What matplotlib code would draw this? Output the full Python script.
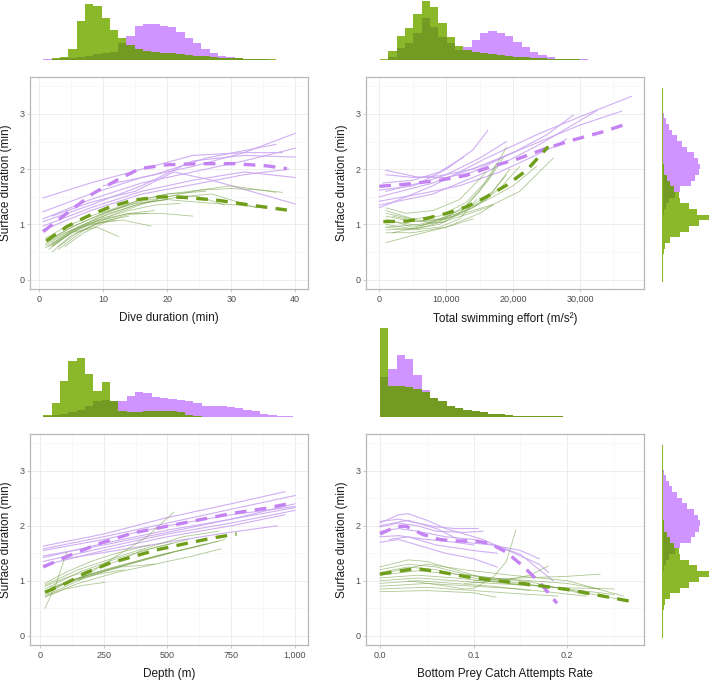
import numpy as np
import matplotlib.pyplot as plt
from matplotlib.ticker import FuncFormatter, MultipleLocator

plt.rcParams['font.family'] = ['Liberation Sans', 'DejaVu Sans']

# colours
PURPLE = '#CF94FF'
GREEN = '#8AB82A'
DARK = '#739A22'
P_LINE = '#CBA6F2'
G_LINE = '#6E9B3A'
P_MEAN = '#C482F2'
G_MEAN = '#6E9E1A'

# ---- marginal histograms (bar heights) ----
dive_bins = (0.63, 1.30)
dive_green = [1, 5, 10, 33, 117, 168, 162, 127, 90, 67, 45, 32, 27, 24, 22, 20, 17, 15, 13, 11,
              9, 7, 6, 5, 4, 3, 2.5, 2, 1.5, 1.5]
dive_purple = [2, 3, 5, 7, 10, 13, 18, 22, 25, 50, 72, 102, 107, 107, 102, 98, 83, 65, 50, 32,
               20, 12, 8, 5, 3, 2.5, 2, 1.5, 1.5, 1.5]

effort_bins = (100, 1245)
effort_green = [2, 27, 73, 97, 137, 177, 160, 110, 70, 43, 30, 25, 20, 17, 14, 12, 10, 8, 6, 5,
                4, 3, 2.5, 2, 1.5, 1.5, 1.5, 1.5, 1.5, 1.5]
effort_purple = [1, 10, 35, 50, 80, 125, 100, 70, 50, 30, 40, 60, 80, 87, 80, 72, 55, 40, 25, 15,
                 8, 4, 3, 2.5, 2, 1.5, 1.5, 1.5, 1.5, 1.5]

depth_bins = (13, 32.7)
depth_green = [7, 42, 107, 167, 177, 129, 77, 105, 47, 17, 16, 16, 17, 18, 19, 19, 16, 5, 2, 1.5,
               1.5, 1.5, 1.5, 1.5, 1.5, 1.5, 1.5, 1.5, 1.5, 1.5]
depth_purple = [2, 5, 8, 14, 22, 34, 47, 50, 47, 49, 62, 74, 72, 59, 57, 54, 50, 49, 42, 34,
                34, 32, 30, 27, 22, 17, 10, 7, 4, 2]

prey_bins = (0.0, 0.0089)
prey_green = [267, 92, 92, 90, 85, 75, 57, 47, 34, 27, 20, 17, 14, 10, 8, 6, 4.5, 3.5, 3, 2.5,
              2, 2, 1.5, 1.5, 1.5, 1.5, 1.5, 1.5, 1.5, 1.5]
prey_purple = [120, 145, 187, 175, 125, 80, 57, 47, 34, 27, 20, 17, 14, 10, 8, 6, 4.5, 3.5, 3, 2.5,
               2, 2, 1.5, 1.5, 1.5, 1.5, 1.5, 1.5, 1.5, 1.5]

surf_bins = (0.05, 0.1025)
surf_green = [1, 1, 1, 2, 5, 10, 25, 55, 80, 110, 140, 105, 80, 55, 50, 35, 25, 15, 7, 5,
              4, 3, 2, 1, 1, 1, 1, 1, 1, 1, 1, 1, 1, 1]
surf_purple = [0.5, 0.5, 0.5, 0.5, 0.5, 0.5, 0.5, 1, 2, 3, 4, 6, 12, 22, 40, 55, 88, 100, 110, 113,
               107, 95, 75, 60, 45, 30, 20, 12, 7, 4, 3, 2, 1, 1]

# ---- panel 1: dive duration ----
dive_purple_mean = [(0.6, 0.87), (4.3, 1.2), (8.4, 1.56), (12.1, 1.8), (15.7, 2.01), (19.9, 2.08),
                    (25.1, 2.1), (30.4, 2.1), (35.6, 2.06), (38.7, 2.01)]
dive_green_mean = [(1.1, 0.70), (4.3, 0.96), (7.4, 1.14), (11.1, 1.32), (14.7, 1.44), (18.9, 1.50),
                   (22.5, 1.49), (27.7, 1.44), (33.0, 1.35), (38.7, 1.26)]
dive_purple_lines = [
    [(0.6, 1.48), (8, 1.75), (16, 2.0), (24, 2.25), (32, 2.3), (38, 2.3)],
    [(0.6, 1.23), (8, 1.55), (16, 1.85), (24, 2.05), (32, 2.3), (40, 2.65)],
    [(0.6, 1.1), (8, 1.45), (16, 1.75), (24, 1.95), (32, 2.15), (40, 2.38)],
    [(0.6, 1.05), (8, 1.35), (16, 1.7), (24, 2.15), (32, 2.25), (40, 2.22)],
    [(0.6, 0.97), (8, 1.3), (16, 1.6), (24, 1.8), (32, 1.95), (40, 1.85)],
    [(0.6, 0.9), (8, 1.25), (16, 1.55), (24, 1.72), (32, 1.9), (39, 2.0)],
    [(2, 1.15), (8, 1.4), (15, 1.6), (21, 1.95), (27, 1.8), (40, 1.37)],
    [(10, 1.7), (18, 1.9), (26, 2.2), (37, 2.45)],
]
dive_green_lines = [
    [(1, 0.62), (5, 0.9), (10, 1.15), (15, 1.35), (20, 1.5), (25, 1.62), (30, 1.7), (37, 1.58)],
    [(1, 0.58), (5, 0.88), (10, 1.18), (15, 1.42), (20, 1.55), (26, 1.6)],
    [(1.5, 0.55), (5, 0.85), (10, 1.12), (14, 1.25), (18, 1.35), (22, 1.38)],
    [(2, 0.5), (5, 0.8), (9, 1.02), (13, 1.08), (17.5, 0.97)],
    [(1.5, 0.7), (5, 0.95), (10, 1.2), (15, 1.38), (20, 1.45), (25, 1.4), (31, 1.35), (35, 1.3)],
    [(1, 0.65), (4, 0.85), (8, 1.0), (12, 1.08)],
    [(2, 0.6), (5, 0.85), (9, 0.95), (12.4, 0.78)],
    [(3, 0.55), (7, 0.9), (12, 1.2), (17, 1.4), (22, 1.5), (27, 1.55), (34, 1.3)],
    [(1, 0.7), (6, 1.0), (11, 1.25), (16, 1.42), (21, 1.52), (25, 1.5), (29, 1.35)],
    [(1.5, 0.6), (5, 0.85), (9, 1.05), (14, 1.2), (19, 1.2), (24, 1.15)],
    [(2, 0.62), (6, 0.92), (11, 1.2), (16, 1.38), (20, 1.45)],
    [(3, 0.6), (6, 0.85), (10, 1.05), (14, 1.18), (17, 1.2)],
    [(1, 0.75), (4, 0.95), (8, 1.15), (12, 1.3), (16, 1.45), (20, 1.55), (25, 1.62), (30, 1.65),
     (35, 1.62), (38, 1.58)],
    [(2, 0.65), (6, 0.95), (10, 1.1), (14, 1.2), (18, 1.25)],
    [(4, 0.6), (7, 0.85), (11, 1.08), (14, 1.15)],
]

# ---- panel 2: total swimming effort ----
effort_purple_mean = [(0, 1.69), (4090, 1.73), (9070, 1.80), (13060, 1.89), (16540, 2.04),
                      (20530, 2.18), (25010, 2.38), (29000, 2.53), (33490, 2.68), (37220, 2.83)]
effort_green_mean = [(600, 1.05), (4090, 1.06), (7080, 1.11), (10070, 1.20), (13060, 1.32),
                     (16040, 1.50), (19030, 1.71), (22030, 1.98), (25260, 2.41)]
effort_purple_lines = [
    [(0, 1.3), (8000, 1.7), (16000, 2.2), (24000, 2.65), (30000, 2.95), (37700, 3.32)],
    [(0, 1.5), (8000, 1.75), (16000, 2.1), (24000, 2.5), (30000, 2.8), (36200, 3.05)],
    [(0, 1.35), (8000, 1.55), (16000, 1.95), (24000, 2.45), (32500, 3.06)],
    [(1000, 1.98), (6000, 1.85), (10000, 1.85), (14000, 1.95), (20000, 2.3), (25000, 2.62), (29000, 2.98)],
    [(1000, 1.6), (6000, 1.75), (10000, 2.0), (14000, 2.35), (16200, 2.7)],
    [(500, 1.75), (5000, 1.8), (9000, 1.95), (12600, 2.22)],
    [(0, 1.42), (6000, 1.55), (12000, 1.7), (18000, 1.95), (26000, 2.4), (28000, 2.55)],
    [(1000, 1.9), (5000, 1.85), (9000, 1.88), (14000, 2.0), (20000, 2.3)],
    [(0, 1.62), (5000, 1.7), (10000, 1.9), (15000, 2.2), (19000, 2.5)],
]
effort_green_lines = [
    [(1000, 0.67), (5000, 0.8), (10000, 0.95), (15000, 1.2), (17000, 1.35)],
    [(1000, 0.85), (5000, 0.85), (10000, 0.95), (14000, 1.1)],
    [(1000, 1.3), (4000, 1.2), (8000, 1.25), (12000, 1.45), (16000, 1.95)],
    [(1000, 1.2), (5000, 1.1), (9000, 1.15), (13000, 1.4), (16500, 1.85), (19000, 2.4)],
    [(1000, 1.1), (5000, 0.95), (9000, 1.05), (13000, 1.35), (16000, 1.75), (18500, 2.2)],
    [(1000, 1.0), (5000, 0.92), (9000, 1.0), (12000, 1.2), (15000, 1.6), (17500, 2.1)],
    [(1000, 0.95), (5000, 0.9), (9000, 0.95), (12000, 1.1), (14500, 1.45)],
    [(2000, 1.05), (6000, 0.98), (10000, 1.1), (14000, 1.3), (18000, 1.65), (21000, 2.05)],
    [(1000, 1.15), (5000, 1.05), (9000, 1.1), (13000, 1.25), (17000, 1.5), (20000, 1.7), (23500, 2.05)],
    [(1000, 0.9), (6000, 0.93), (11000, 1.1), (16000, 1.3), (21000, 1.6), (26000, 2.2)],
    [(1000, 1.25), (5000, 1.1), (8000, 1.02), (10000, 1.05)],
    [(2000, 0.85), (6000, 0.95), (10000, 1.15), (14000, 1.35), (17000, 1.6), (19500, 2.0)],
    [(2000, 1.15), (6000, 1.05), (10000, 1.1), (14000, 1.25), (17000, 1.36)],
    [(1000, 0.95), (6000, 1.0), (11000, 1.15), (16000, 1.45), (19000, 1.9)],
]

# ---- panel 3: depth ----
depth_purple_mean = [(13, 1.25), (105, 1.44), (235, 1.68), (366, 1.87), (497, 1.99), (627, 2.11),
                     (758, 2.23), (889, 2.32), (993, 2.42)]
depth_green_mean = [(20, 0.79), (105, 0.96), (183, 1.15), (274, 1.32), (366, 1.44), (457, 1.56),
                    (575, 1.68), (680, 1.78), (771, 1.85)]
depth_purple_lines = [
    [(13, 1.63), (250, 1.85), (500, 2.15), (750, 2.4), (960, 2.62)],
    [(13, 1.58), (250, 1.8), (500, 2.05), (750, 2.3), (1000, 2.55)],
    [(13, 1.55), (250, 1.75), (500, 2.0), (750, 2.2), (1000, 2.35)],
    [(13, 1.42), (250, 1.68), (500, 1.92), (750, 2.12), (1000, 2.33)],
    [(13, 1.35), (250, 1.6), (500, 1.85), (750, 2.05), (1000, 2.28)],
    [(13, 1.28), (250, 1.55), (500, 1.8), (750, 2.0), (960, 2.2)],
    [(100, 1.4), (300, 1.55), (500, 1.7), (700, 1.85), (930, 2.0)],
    [(13, 1.45), (250, 1.65), (500, 1.88), (750, 2.12), (1000, 2.4)],
]
depth_green_lines = [
    [(20, 0.5), (60, 0.9), (105, 1.52)],
    [(150, 1.0), (300, 1.45), (420, 1.8), (525, 2.25)],
    [(20, 0.7), (100, 0.85), (175, 0.92), (255, 0.97)],
    [(20, 0.75), (100, 0.95), (200, 1.1), (320, 1.25), (450, 1.3)],
    [(20, 0.8), (150, 1.05), (300, 1.25), (450, 1.45), (600, 1.6), (725, 1.75)],
    [(20, 0.85), (150, 1.15), (300, 1.4), (450, 1.6), (580, 1.75)],
    [(20, 0.9), (100, 1.05), (200, 1.2), (300, 1.35), (400, 1.55), (520, 1.68)],
    [(20, 0.95), (100, 1.15), (200, 1.35), (300, 1.5), (430, 1.65)],
    [(20, 0.72), (150, 0.95), (300, 1.15), (450, 1.3), (600, 1.45), (710, 1.58)],
    [(20, 0.8), (120, 1.0), (250, 1.2), (400, 1.38), (550, 1.55), (700, 1.72)],
    [(40, 0.88), (200, 1.12), (350, 1.3), (500, 1.5), (650, 1.67)],
    [(30, 0.82), (120, 1.0), (230, 1.12), (330, 1.2)],
    [(20, 0.92), (150, 1.2), (280, 1.4), (420, 1.6), (560, 1.8), (700, 1.9)],
    [(30, 0.75), (150, 1.0), (270, 1.2), (390, 1.35), (510, 1.5)],
]

# ---- panel 4: bottom prey catch attempts rate ----
prey_purple_mean = [(0, 1.85), (0.018, 1.99), (0.028, 1.99), (0.046, 1.84), (0.064, 1.75),
                    (0.082, 1.72), (0.1, 1.73), (0.117, 1.68), (0.135, 1.52), (0.153, 1.26),
                    (0.171, 0.96), (0.189, 0.59)]
prey_green_mean = [(0, 1.12), (0.018, 1.17), (0.039, 1.22), (0.064, 1.16), (0.093, 1.07),
                   (0.121, 1.01), (0.157, 0.94), (0.2, 0.84), (0.235, 0.73), (0.269, 0.62)]
prey_purple_lines = [
    [(0, 2.05), (0.02, 2.2), (0.03, 2.22), (0.05, 2.1), (0.07, 1.95), (0.09, 1.85), (0.11, 1.75),
     (0.13, 1.6), (0.15, 1.45), (0.17, 1.3), (0.18, 1.15)],
    [(0, 2.08), (0.02, 2.12), (0.04, 2.05), (0.06, 1.98), (0.08, 1.95), (0.105, 1.95)],
    [(0, 1.98), (0.02, 2.05), (0.04, 2.0), (0.06, 1.9), (0.09, 1.88), (0.11, 1.9)],
    [(0, 1.9), (0.02, 1.95), (0.04, 1.9), (0.07, 1.8), (0.1, 1.75), (0.13, 1.6), (0.15, 1.48),
     (0.17, 1.2), (0.185, 1.0)],
    [(0, 1.7), (0.02, 1.75), (0.04, 1.65), (0.07, 1.5), (0.1, 1.4), (0.125, 1.25)],
    [(0, 1.8), (0.02, 1.82), (0.05, 1.75), (0.08, 1.7), (0.1, 1.65)],
    [(0, 2.0), (0.03, 2.1), (0.06, 1.95), (0.09, 1.7), (0.12, 1.65), (0.15, 1.55), (0.17, 1.4)],
    [(0.01, 1.75), (0.03, 1.8), (0.06, 1.65), (0.1, 1.55), (0.125, 1.5)],
]
prey_green_lines = [
    [(0.03, 1.0), (0.06, 0.93), (0.09, 0.85), (0.1, 0.86), (0.12, 1.05), (0.135, 1.35), (0.145, 1.92)],
    [(0, 1.25), (0.03, 1.38), (0.05, 1.35), (0.08, 1.2), (0.11, 1.05), (0.15, 0.95), (0.2, 0.85), (0.25, 0.75)],
    [(0, 1.2), (0.03, 1.3), (0.06, 1.25), (0.09, 1.12), (0.12, 1.05), (0.16, 0.98), (0.22, 0.75)],
    [(0, 1.15), (0.03, 1.25), (0.06, 1.2), (0.1, 1.05), (0.14, 0.95), (0.18, 0.88), (0.25, 0.85)],
    [(0, 1.1), (0.04, 1.18), (0.08, 1.12), (0.12, 1.05), (0.16, 1.0), (0.2, 0.95), (0.235, 0.85)],
    [(0, 1.05), (0.04, 1.1), (0.08, 1.05), (0.12, 0.98), (0.16, 0.9)],
    [(0, 1.0), (0.04, 1.05), (0.08, 1.0), (0.12, 0.95), (0.18, 0.9), (0.26, 0.65)],
    [(0, 0.95), (0.04, 1.0), (0.08, 0.95), (0.12, 0.9), (0.16, 0.82)],
    [(0, 0.9), (0.05, 0.95), (0.1, 0.9), (0.15, 0.85), (0.22, 0.72)],
    [(0, 0.85), (0.05, 0.88), (0.1, 0.82), (0.15, 0.76), (0.19, 0.72)],
    [(0, 0.8), (0.05, 0.82), (0.1, 0.78), (0.124, 0.7)],
    [(0.09, 0.95), (0.13, 1.0), (0.16, 1.1), (0.18, 1.27)],
    [(0.1, 1.0), (0.15, 1.05), (0.2, 1.08), (0.235, 1.12)],
    [(0, 1.12), (0.05, 1.3), (0.09, 1.2), (0.14, 1.1), (0.2, 1.0), (0.26, 0.72)],
]

W, H = 709, 680
fig = plt.figure(figsize=(W / 100, H / 100), dpi=100)


def px_axes(x0, y0, x1, y1):
    return fig.add_axes([x0 / W, 1 - y1 / H, (x1 - x0) / W, (y1 - y0) / H])


comma = FuncFormatter(lambda v, p: f'{int(v):,}')
dec = FuncFormatter(lambda v, p: f'{v:.1f}')
num = FuncFormatter(lambda v, p: f'{int(v)}')


def main_panel(box, xlim, major, minor, fmt, xlabel, purple_lines, green_lines, pmean, gmean):
    ax = px_axes(*box)
    for ln in purple_lines:
        a = np.array(ln)
        ax.plot(a[:, 0], a[:, 1], color=P_LINE, lw=0.8, alpha=0.9, zorder=2)
    for ln in green_lines:
        a = np.array(ln)
        ax.plot(a[:, 0], a[:, 1], color=G_LINE, lw=0.6, alpha=0.55, zorder=2)
    a = np.array(pmean)
    ax.plot(a[:, 0], a[:, 1], color=P_MEAN, lw=2.4, ls=(0, (3.5, 2.5)), zorder=3)
    a = np.array(gmean)
    ax.plot(a[:, 0], a[:, 1], color=G_MEAN, lw=2.4, ls=(0, (3.5, 2.5)), zorder=3)
    ax.set_xlim(*xlim)
    ax.set_ylim(-0.17, 3.67)
    ax.xaxis.set_major_locator(MultipleLocator(major))
    ax.xaxis.set_minor_locator(MultipleLocator(minor))
    ax.yaxis.set_major_locator(MultipleLocator(1))
    ax.yaxis.set_minor_locator(MultipleLocator(0.5))
    ax.xaxis.set_major_formatter(fmt)
    ax.grid(which='major', color='#EBEBEB', lw=0.6, zorder=0)
    ax.grid(which='minor', color='#F4F4F4', lw=0.4, zorder=0)
    ax.set_axisbelow(True)
    for s in ax.spines.values():
        s.set_color('#B8B8B8')
        s.set_linewidth(0.9)
    ax.tick_params(which='major', length=2, width=0.5, color='#B8B8B8', labelsize=6.5,
                   labelcolor='#4D4D4D', pad=2)
    ax.tick_params(which='minor', length=0)
    ax.set_xlabel(xlabel, fontsize=8.5, color='#1A1A1A', labelpad=6)
    ax.set_ylabel('Surface duration (min)', fontsize=8.5, color='#1A1A1A', labelpad=5)
    return ax


def top_hist(box, xlim, bins, green, purple, ymax):
    ax = px_axes(*box)
    start, width = bins
    x = start + width * np.arange(len(green))
    g = np.array(green, float)
    p = np.array(purple, float)
    ax.bar(x, p, width=width, align='edge', color=PURPLE, lw=0)
    ax.bar(x, g, width=width, align='edge', color=GREEN, lw=0)
    ax.bar(x, np.minimum(g, p), width=width, align='edge', color=DARK, lw=0)
    ax.set_xlim(*xlim)
    ax.set_ylim(0, ymax)
    ax.axis('off')
    return ax


def right_hist(box, bins, green, purple):
    ax = px_axes(*box)
    start, width = bins
    y = start + width * np.arange(len(green))
    g = np.array(green, float)
    p = np.array(purple, float)
    ax.barh(y, p, height=width, align='edge', color=PURPLE, lw=0)
    ax.barh(y, g, height=width, align='edge', color=GREEN, lw=0)
    ax.barh(y, np.minimum(g, p), height=width, align='edge', color=DARK, lw=0)
    ax.axvline(0, color=GREEN, lw=0.8, ymin=0.04, ymax=0.95)
    ax.set_ylim(-0.17, 3.67)
    ax.set_xlim(0, 141)
    ax.axis('off')
    return ax


# top row
main_panel((30, 77, 308, 289), (-1.45, 42.0), 10, 5, num, 'Dive duration (min)',
           dive_purple_lines, dive_green_lines, dive_purple_mean, dive_green_mean)
top_hist((30, 0, 308, 60), (-1.45, 42.0), dive_bins, dive_green, dive_purple, 180)

main_panel((366, 77, 644, 289), (-1990, 39570), 10000, 5000, comma, 'Total swimming effort (m/s²)',
           effort_purple_lines, effort_green_lines, effort_purple_mean, effort_green_mean)
top_hist((366, 0, 644, 60), (-1990, 39570), effort_bins, effort_green, effort_purple, 180)
right_hist((662, 77, 709, 289), surf_bins, surf_green, surf_purple)

# bottom row
main_panel((30, 434, 308, 645), (-39, 1051), 250, 125, comma, 'Depth (m)',
           depth_purple_lines, depth_green_lines, depth_purple_mean, depth_green_mean)
top_hist((30, 327, 308, 417), (-39, 1051), depth_bins, depth_green, depth_purple, 270)

main_panel((366, 434, 644, 645), (-0.0149, 0.2819), 0.1, 0.05, dec, 'Bottom Prey Catch Attempts Rate',
           prey_purple_lines, prey_green_lines, prey_purple_mean, prey_green_mean)
top_hist((366, 327, 644, 417), (-0.0149, 0.2819), prey_bins, prey_green, prey_purple, 270)
right_hist((662, 434, 709, 645), surf_bins, surf_green, surf_purple)

fig.savefig('out.png', dpi=100)
